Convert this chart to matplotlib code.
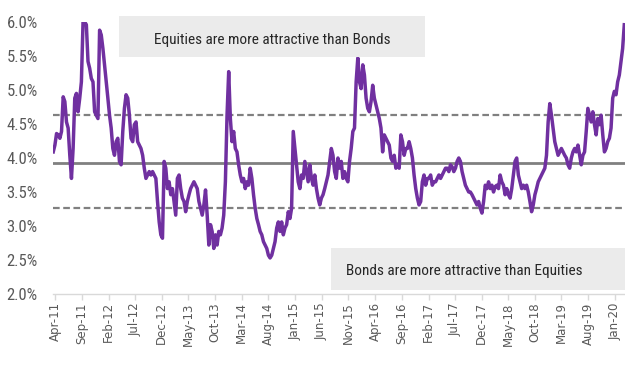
import numpy as np
import pandas as pd
import matplotlib
matplotlib.use("Agg")
import matplotlib.pyplot as plt
import matplotlib.dates as mdates
from matplotlib import font_manager
from matplotlib.patches import Rectangle

# weekly readings of the equity-vs-bond yield gap (%), Apr-2011 .. Feb-2020
spread = [
    4.09, 4.19, 4.36, 4.34, 4.29, 4.39, 4.90, 4.83, 4.53, 4.44, 4.04, 3.70, 4.14, 4.88,
    4.95, 4.68, 4.88, 5.12, 6.00, 6.00, 5.96, 5.42, 5.32, 5.17, 5.12, 4.68, 4.63, 4.58,
    5.88, 5.81, 5.61, 5.37, 5.12, 4.88, 4.63, 4.44, 4.14, 4.04, 4.24, 4.29, 3.95, 3.90,
    4.39, 4.73, 4.93, 4.88, 4.63, 4.29, 4.24, 4.49, 4.53, 4.24, 4.19, 4.14, 4.04, 3.85,
    3.70, 3.75, 3.80, 3.75, 3.80, 3.75, 3.70, 3.36, 3.06, 2.87, 2.82,
    3.95, 3.85, 3.55, 3.65, 3.46, 3.55, 3.36, 3.16, 3.70, 3.75, 3.55, 3.41, 3.36, 3.21,
    3.36, 3.46, 3.55, 3.60, 3.65, 3.60, 3.55, 3.36, 3.26, 3.16, 3.31, 3.53, 3.16, 2.72,
    3.02, 2.92, 2.67, 2.87, 2.72, 2.92, 2.87, 2.97, 3.16, 3.65, 4.63, 5.27, 4.58, 4.24,
    4.39, 4.14, 4.09, 3.90, 3.75, 3.65, 3.70, 3.55, 3.65, 3.60, 3.85, 3.70, 3.46, 3.26,
    3.11, 3.02, 2.92, 2.87, 2.77, 2.72, 2.67, 2.57, 2.53, 2.57, 2.67, 2.77, 2.97,
    3.06, 2.92, 3.06, 2.87, 2.97, 3.02, 3.21, 3.11, 3.26, 4.39, 4.14, 3.90, 3.65, 3.55,
    3.75, 3.70, 3.95, 3.80, 3.65, 3.90, 3.70, 3.60, 3.75, 3.55, 3.41, 3.31, 3.41, 3.46,
    3.55, 3.65, 3.75, 3.95, 4.14, 4.04, 3.80, 3.70, 4.00, 3.85, 3.95, 3.70, 3.80, 3.70,
    3.65, 3.95, 4.14, 4.39, 4.44, 5.12, 5.47, 5.12, 5.02, 5.37, 5.22, 4.88, 4.73, 4.68,
    4.83, 5.07, 4.88, 4.78, 4.68, 4.58, 4.44, 4.09, 4.34, 4.29, 4.24, 4.19, 4.00,
    3.95, 4.04, 3.85, 3.90, 3.85, 4.34, 4.24, 4.04, 4.14, 4.14, 4.24, 4.14, 4.00, 3.75,
    3.55, 3.41, 3.31, 3.36, 3.65, 3.75, 3.60, 3.70, 3.70, 3.75, 3.60, 3.65, 3.65, 3.70,
    3.75, 3.70, 3.75, 3.80, 3.85, 3.85, 3.80, 3.90, 3.87, 3.80, 3.85, 3.95, 4.00, 3.95,
    3.80, 3.70, 3.60, 3.55, 3.50, 3.50, 3.46, 3.41, 3.36, 3.31, 3.36, 3.26, 3.19, 3.36,
    3.60, 3.55, 3.65, 3.55, 3.60, 3.50, 3.58, 3.60, 3.55, 3.75, 3.65, 3.60, 3.46,
    3.55, 3.46, 3.41, 3.55, 3.75, 3.95, 4.00, 3.75, 3.65, 3.55, 3.60, 3.55, 3.60, 3.50,
    3.36, 3.21, 3.31, 3.46, 3.55, 3.65, 3.70, 3.75, 3.80, 3.85, 4.04, 4.53, 4.80, 4.63,
    4.44, 4.24, 4.14, 4.04, 4.09, 4.14, 4.09, 4.04, 4.00, 3.90, 3.85, 4.00, 4.09, 4.14,
    4.09, 4.19, 4.04, 3.90, 4.04, 4.09, 4.39, 4.73, 4.63, 4.53, 4.68, 4.49, 4.34, 4.58,
    4.49, 4.63, 4.34, 4.09, 4.14, 4.24, 4.29, 4.44, 4.88, 4.98, 4.93, 5.12, 5.22, 5.42,
    5.61, 5.96,
]
dates = pd.date_range("2011-03-22", "2020-02-23", periods=len(spread))

avg_level = 3.93      # long-run average
upper_band = 4.63     # +1 sd
lower_band = 3.27     # -1 sd

tick_dates = pd.date_range("2011-04-01", periods=22, freq="5MS")
y_ticks = [2.0, 2.5, 3.0, 3.5, 4.0, 4.5, 5.0, 5.5, 6.0]

# pick a narrow face for the captions / y labels if one is around
installed = {f.name for f in font_manager.fontManager.ttflist}
stretched = {f.name for f in font_manager.fontManager.ttflist
             if str(f.stretch) in ("condensed", "semi-condensed", "extra-condensed")}
narrow_font, narrow_kw, shrink = "Roboto", {}, 0.92
for name in ["Liberation Sans Narrow", "Roboto Condensed", "Open Sans Condensed",
             "Noto Sans Condensed", "DejaVu Sans Condensed"]:
    if name in installed:
        narrow_font, shrink = name, 1.0
        break
else:
    for name in ["DejaVu Sans", "Noto Sans", "Open Sans"]:
        if name in stretched:
            narrow_font, narrow_kw, shrink = name, {"fontstretch": "condensed"}, 0.95
            break
if narrow_font == "Roboto" and "Roboto" not in installed:
    narrow_font = "DejaVu Sans"
    shrink = 0.82

W, H = 625, 372
fig = plt.figure(figsize=(W / 100, H / 100), dpi=100)
# plot area in pixels: x 53..625, y 22 (6%) .. 294 (2%)
ax = fig.add_axes([53 / W, (H - 294) / H, (625 - 53) / W, (294 - 22) / H])

# shaded captions behind the chart
fig.patches.append(Rectangle((119 / W, 1 - 57 / H), (425 - 119) / W, 41 / H,
                             transform=fig.transFigure, facecolor="#EBEBEB",
                             edgecolor="none", zorder=0))
fig.patches.append(Rectangle((331 / W, 1 - 290 / H), (625 - 331) / W, 42 / H,
                             transform=fig.transFigure, facecolor="#EBEBEB",
                             edgecolor="none", zorder=0))
fig.text(272 / W, 1 - 40 / H, "Equities are more attractive than Bonds",
         ha="center", va="center", fontsize=11 * shrink, family=narrow_font,
         color="#262626", **narrow_kw)
fig.text(464 / W, 1 - 271 / H, "Bonds are more attractive than Equities",
         ha="center", va="center", fontsize=11 * shrink, family=narrow_font,
         color="#262626", **narrow_kw)
ax.patch.set_alpha(0)

ax.axhline(avg_level, color="#808080", lw=2.0, zorder=2)
ax.axhline(upper_band, color="#808080", lw=1.6, ls=(0, (3, 1.6)), zorder=2)
ax.axhline(lower_band, color="#808080", lw=1.6, ls=(0, (3, 1.6)), zorder=2)
ax.plot(dates, spread, color="#7030A0", lw=2.5, solid_joinstyle="round", zorder=3)

# x scale pinned so Apr-11 sits at px 55 and Jan-20 at px 615
d0 = mdates.date2num(pd.Timestamp("2011-04-01"))
d1 = mdates.date2num(pd.Timestamp("2020-01-01"))
per_px = (d1 - d0) / (615 - 55)
ax.set_xlim(d0 - 2 * per_px, d0 + 570 * per_px)
ax.set_ylim(2.0, 6.0)

ax.set_xticks(tick_dates)
ax.xaxis.set_major_formatter(mdates.DateFormatter("%b-%y"))
ax.set_yticks(y_ticks)
ax.set_yticklabels([f"{v:.1f}%" for v in y_ticks], family=narrow_font, **narrow_kw)

for lab in ax.get_xticklabels():
    lab.set_rotation(90)
ax.tick_params(axis="x", colors="#D9D9D9", length=4, width=1, labelsize=8.5,
               labelcolor="#595959", pad=2)
ax.tick_params(axis="y", length=0, labelsize=12 * shrink, labelcolor="#595959", pad=11)

for s in ["left", "right", "top"]:
    ax.spines[s].set_visible(False)
ax.spines["bottom"].set_color("#D9D9D9")
ax.spines["bottom"].set_linewidth(1)

fig.savefig("out.png", dpi=100)
